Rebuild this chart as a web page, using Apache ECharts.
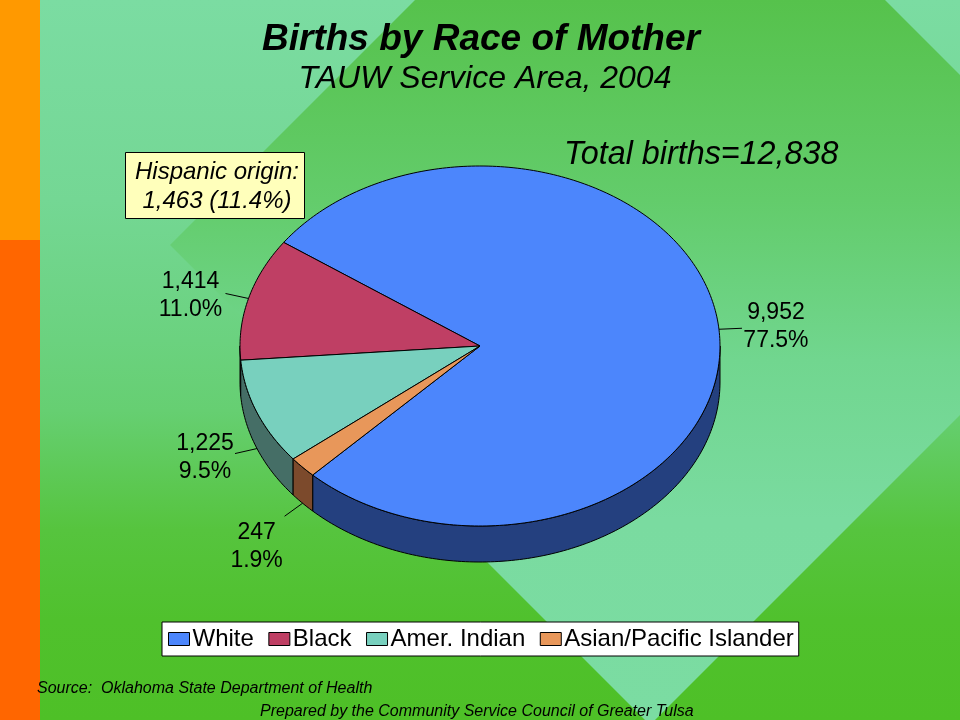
<!DOCTYPE html>
<html><head><meta charset="utf-8">
<style>html,body{margin:0;padding:0;background:#fff}#c{width:960px;height:720px}</style>
<script src="https://cdn.jsdelivr.net/npm/echarts@6/dist/echarts.min.js"></script>
</head><body><div id="c"></div>
<script>
var categories = ['White', 'Black', 'Amer. Indian', 'Asian/Pacific Islander'];
var births = [9952, 1414, 1225, 247];
var percents = ['77.5%', '11.0%', '9.5%', '1.9%'];
var valueLabels = ['9,952', '1,414', '1,225', '247'];
var titleText = 'Births by Race of Mother';
var subtitleText = 'TAUW Service Area, 2004';
var totalText = 'Total births=12,838';
var hispanicLines = ['Hispanic origin:', '1,463 (11.4%)'];
var sourceText = 'Source:  Oklahoma State Department of Health';
var preparedText = 'Prepared by the Community Service Council of Greater Tulsa';

var FONT = '"Liberation Sans", Arial, sans-serif';
var topColors = ['#4C86FC', '#BF3F64', '#78D0BE', '#E8975A'];
var wallColors = ['#24407F', '#60203A', '#456E66', '#7C4A2C'];
var PIE = {cx: 480, cy: 346, rx: 240, ry: 180, depth: 36, startDeg: 224.2};
var leaderEnds = [[23, -1], [-23, -5], [-22, 5], [-18, 13]];
var labelOffsets = [[34, -2], [-35, 2], [-30, 4], [-28, 30]];

var total = births.reduce(function (a, b) { return a + b; }, 0);
function pt(deg, dy) {
  var r = deg * Math.PI / 180;
  return [PIE.cx + PIE.rx * Math.sin(r), PIE.cy - PIE.ry * Math.cos(r) + (dy || 0)];
}
function sliceRange(i) {
  var before = 0;
  for (var k = 0; k < i; k++) before += births[k];
  // slices run counter-clockwise from the start angle
  var a = PIE.startDeg + 360 * (1 - before / total);
  var b = a - 360 * births[i] / total;
  return [b, a];
}
function arc(a, b, dy) {
  var out = [], n = Math.max(2, Math.ceil(Math.abs(b - a)));
  for (var k = 0; k <= n; k++) out.push(pt(a + (b - a) * k / n, dy));
  return out;
}
function frontRange(a, b) {
  // portion of [a,b] that lies on the front half (90..270, plus 360 wraps)
  var res = [];
  for (var w = -360; w <= 360; w += 360) {
    var lo = Math.max(a, 90 + w), hi = Math.min(b, 270 + w);
    if (hi > lo) res.push([lo, hi]);
  }
  return res;
}
function makeRender(i) {
  return function () {
    var range = sliceRange(i), a = range[0], b = range[1];
    var children = [];
    frontRange(a, b).forEach(function (fr) {
      var pts = arc(fr[0], fr[1], 0).concat(arc(fr[1], fr[0], PIE.depth));
      children.push({type: 'polygon', shape: {points: pts},
        style: {fill: wallColors[i], stroke: '#000', lineWidth: 1, lineJoin: 'round'}});
    });
    var top = [[PIE.cx, PIE.cy]].concat(arc(a, b, 0));
    children.push({type: 'polygon', shape: {points: top},
      style: {fill: topColors[i], stroke: '#000', lineWidth: 1, lineJoin: 'round'}});
    var mid = (a + b) / 2, norm = ((mid % 360) + 360) % 360;
    var inner = pt(mid, norm > 90 && norm < 270 ? PIE.depth : 0);
    var outer = [inner[0] + leaderEnds[i][0], inner[1] + leaderEnds[i][1]];
    children.push({type: 'line', shape: {x1: inner[0], y1: inner[1], x2: outer[0], y2: outer[1]},
      style: {stroke: '#000', lineWidth: 1}});
    children.push({type: 'text', style: {
      x: outer[0] + labelOffsets[i][0], y: outer[1] + labelOffsets[i][1],
      text: valueLabels[i] + '\n' + percents[i], align: 'center', verticalAlign: 'middle',
      font: '23px ' + FONT, lineHeight: 28, fill: '#000'}});
    return {type: 'group', children: children};
  };
}
var series = categories.map(function (name, i) {
  return {type: 'custom', name: name, coordinateSystem: 'none', silent: true, clip: false,
    itemStyle: {color: topColors[i]},
    renderItem: makeRender(i), data: [{name: name, value: births[i]}]};
});
function grad(stops) {
  return {type: 'linear', x: 0, y: 0, x2: 0, y2: 720, global: true,
    colorStops: stops.map(function (s) { return {offset: s[0] / 720, color: s[1]}; })};
}
var chart = echarts.init(document.getElementById('c'), null, {renderer: 'canvas'});
chart.setOption({
  animation: false,
  backgroundColor: '#4EC02A',
  title: [
    {text: titleText, left: 481, top: 21, textAlign: 'center', padding: 0,
      textStyle: {fontFamily: FONT, fontSize: 37, fontWeight: 'bold', fontStyle: 'italic', color: '#000'}},
    {text: subtitleText, left: 485, top: 63, textAlign: 'center', padding: 0,
      textStyle: {fontFamily: FONT, fontSize: 32, fontWeight: 'normal', fontStyle: 'italic', color: '#000'}},
    {text: totalText, left: 564, top: 139, padding: 0,
      textStyle: {fontFamily: FONT, fontSize: 32.3, fontWeight: 'normal', fontStyle: 'italic', color: '#000'}}
  ],
  legend: {
    left: 162, top: 622, orient: 'horizontal', padding: [5, 5, 5, 6], itemGap: 14.5,
    itemWidth: 21, itemHeight: 13, icon: 'rect', selectedMode: false,
    backgroundColor: '#fff', borderColor: '#000', borderWidth: 1, borderRadius: 0,
    itemStyle: {borderColor: '#000', borderWidth: 1},
    textStyle: {fontFamily: FONT, fontSize: 24, color: '#000', padding: [0, 0, 0, -2]},
    data: categories
  },
  series: series,
  graphic: [
    {type: 'rect', z: -5, silent: true, shape: {x: 0, y: 0, width: 960, height: 720},
      style: {fill: grad([[0, '#7BDCA2'], [200, '#74D794'], [340, '#6BD27F'], [410, '#66CF72'], [530, '#56C43E'], [620, '#50C12D'], [720, '#4EC027']])}},
    {type: 'polygon', z: -4, silent: true, shape: {points: [[170, 245], [650, -235], [1130, 245], [650, 725]]},
      style: {fill: grad([[0, '#56C24C'], [200, '#63CC6B'], [360, '#71D68F'], [520, '#7ADBA0'], [720, '#7BDCA2']])}},
    {type: 'rect', z: -3, silent: true, shape: {x: 0, y: 0, width: 40, height: 240}, style: {fill: '#FF9900'}},
    {type: 'rect', z: -3, silent: true, shape: {x: 0, y: 240, width: 40, height: 480}, style: {fill: '#FF6600'}},
    {type: 'rect', z: 5, silent: true, shape: {x: 125.5, y: 152.5, width: 179, height: 66},
      style: {fill: '#FFFFBB', stroke: '#000', lineWidth: 1}},
    {type: 'text', z: 6, silent: true, style: {x: 217, y: 187, text: hispanicLines.join('\n'),
      align: 'center', verticalAlign: 'middle', font: 'italic 24px ' + FONT, lineHeight: 29, fill: '#000'}},
    {type: 'text', z: 6, silent: true, style: {x: 37, y: 689, text: sourceText,
      align: 'left', verticalAlign: 'middle', font: 'italic 16px ' + FONT, fill: '#000'}},
    {type: 'text', z: 6, silent: true, style: {x: 260, y: 712, text: preparedText,
      align: 'left', verticalAlign: 'middle', font: 'italic 16px ' + FONT, fill: '#000'}}
  ]
});
</script></body></html>
